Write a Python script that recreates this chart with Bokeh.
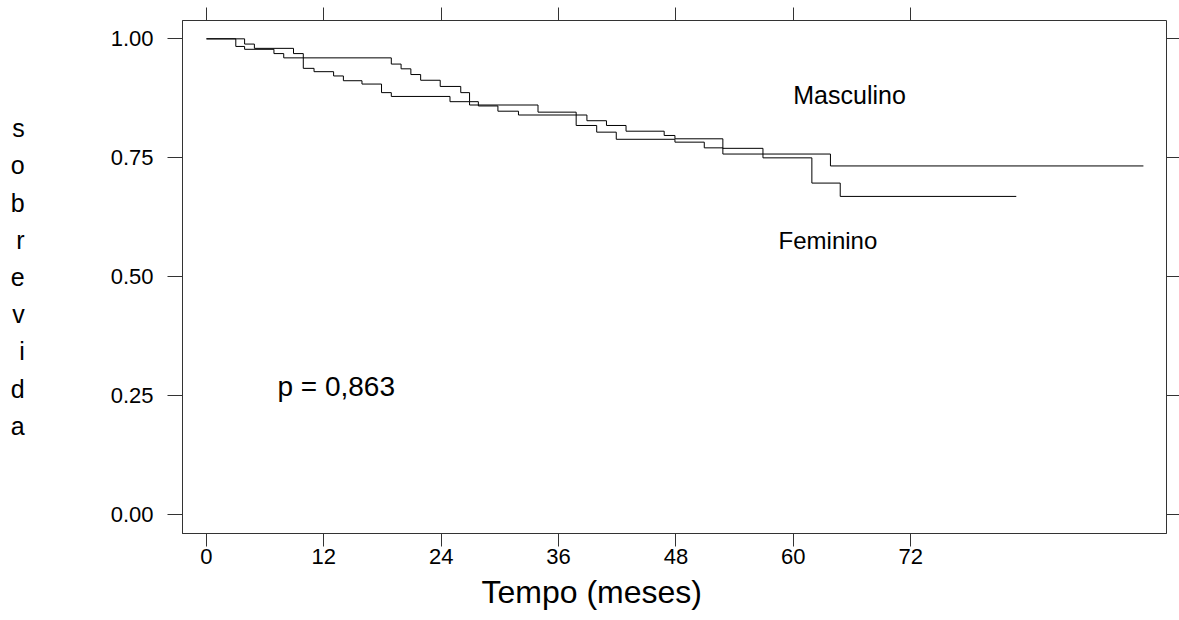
from bokeh.plotting import figure
from bokeh.models import LinearAxis, FixedTicker, Label, Range1d, Title
from bokeh.embed import file_html
from bokeh.resources import INLINE

# ---- data ----
masc_time = [0, 3.0, 3.9, 6.9, 7.9, 18.9, 19.9, 20.9, 21.9, 23.9, 26.0, 26.9, 27.8,
             29.8, 31.9, 38.9, 40.9, 42.9, 46.8, 47.9, 52.8, 56.9, 63.8, 95.8]
masc_surv = [1.0, 0.984, 0.978, 0.969, 0.960, 0.947, 0.937, 0.925, 0.913, 0.900, 0.887, 0.868, 0.859,
             0.848, 0.840, 0.828, 0.818, 0.806, 0.797, 0.790, 0.770, 0.758, 0.733, 0.733]

fem_time = [0, 3.9, 4.9, 8.9, 9.9, 11.0, 13.0, 14.0, 15.9, 17.9, 18.9, 24.9, 26.9,
            33.9, 37.8, 39.9, 41.9, 47.9, 50.9, 52.8, 56.9, 61.9, 64.8, 82.8]
fem_surv = [1.0, 0.989, 0.980, 0.969, 0.938, 0.931, 0.922, 0.912, 0.905, 0.887, 0.879, 0.868, 0.861,
            0.846, 0.818, 0.804, 0.789, 0.783, 0.771, 0.758, 0.750, 0.697, 0.669, 0.669]

x_ticks = [0, 12, 24, 36, 48, 60, 72]
y_ticks = [0.0, 0.25, 0.50, 0.75, 1.00]
y_tick_labels = ["0.00", "0.25", "0.50", "0.75", "1.00"]
series_names = ["Masculino", "Feminino"]
p_value_text = "p = 0,863"
x_title = "Tempo (meses)"
y_title = "sobrevida"

FONT = "Liberation Sans"
AX = "#333333"

p = figure(width=1179, height=620,
           x_range=Range1d(-2.45, 98.16), y_range=Range1d(-0.039, 1.0385),
           output_backend="svg", toolbar_location=None,
           min_border_left=182, min_border_right=13, min_border_top=20, min_border_bottom=87)
p.xgrid.visible = False
p.ygrid.visible = False
p.outline_line_color = AX
p.outline_line_width = 1
p.background_fill_color = "white"
p.border_fill_color = "white"

# bottom axis
xa = p.xaxis[0]
xa.ticker = FixedTicker(ticks=x_ticks)
xa.major_label_overrides = {t: str(t) for t in x_ticks}
xa.major_tick_in = 0
xa.major_tick_out = 13
xa.minor_tick_line_color = None
xa.axis_line_color = AX
xa.major_tick_line_color = AX
xa.major_label_text_font = FONT
xa.major_label_text_font_size = "22px"
xa.major_label_text_color = "black"
xa.major_label_standoff = 2

# x title, offset to the left as in the reference
p.add_layout(Title(text=x_title, align="left", offset=299, standoff=11,
                   text_font=FONT, text_font_size="32px", text_font_style="normal",
                   text_color="black"), "below")

# left axis
ya = p.yaxis[0]
ya.ticker = FixedTicker(ticks=y_ticks)
ya.major_label_overrides = dict(zip(y_ticks, y_tick_labels))
ya.major_tick_in = 0
ya.major_tick_out = 15
ya.minor_tick_line_color = None
ya.axis_line_color = AX
ya.major_tick_line_color = AX
ya.major_label_text_font = FONT
ya.major_label_text_font_size = "22px"
ya.major_label_text_color = "black"
ya.major_label_standoff = 14
ya.axis_label = "\n".join(y_title)
ya.axis_label_orientation = "horizontal"
ya.axis_label_text_font = FONT
ya.axis_label_text_font_size = "25px"
ya.axis_label_text_font_style = "normal"
ya.axis_label_text_color = "black"
ya.axis_label_text_line_height = 1.33
ya.axis_label_standoff = 83

# top axis (ticks only)
top = LinearAxis(ticker=FixedTicker(ticks=x_ticks), major_tick_in=0, major_tick_out=13,
                 minor_tick_line_color=None, axis_line_color=None,
                 major_tick_line_color=AX,
                 major_label_text_font_size="0px", major_label_standoff=0)
top.major_label_overrides = {t: "" for t in x_ticks}
p.add_layout(top, "above")

# right axis (ticks only)
right = LinearAxis(ticker=FixedTicker(ticks=y_ticks), major_tick_in=0, major_tick_out=13,
                   minor_tick_line_color=None, axis_line_color=None,
                   major_tick_line_color=AX,
                   major_label_text_font_size="0px", major_label_standoff=0)
right.major_label_overrides = {t: "" for t in y_ticks}
p.add_layout(right, "right")

# survival curves
p.step(masc_time, masc_surv, mode="after", line_color="black", line_width=1)
p.step(fem_time, fem_surv, mode="after", line_color="black", line_width=1)

# annotations
p.add_layout(Label(x=60.0, y=0.881, text=series_names[0], text_font=FONT,
                   text_font_size="25px", text_baseline="middle", text_align="left",
                   text_color="black"))
p.add_layout(Label(x=58.5, y=0.576, text=series_names[1], text_font=FONT,
                   text_font_size="24px", text_baseline="middle", text_align="left",
                   text_color="black"))
p.add_layout(Label(x=7.26, y=0.270, text=p_value_text, text_font=FONT,
                   text_font_size="28px", text_baseline="middle", text_align="left",
                   text_color="black"))

open("out.html", "w").write(file_html(p, INLINE))
